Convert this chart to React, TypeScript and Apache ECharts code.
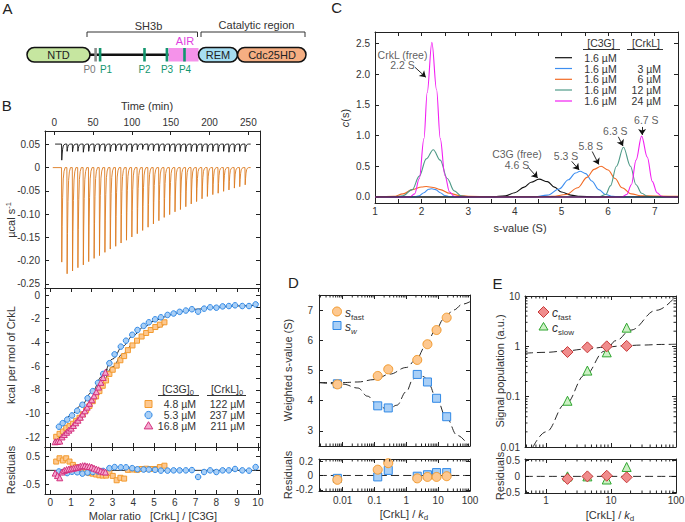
import React, { useEffect, useRef } from 'react';
import * as echarts from 'echarts';

const FONT = '"Liberation Sans", Arial, Helvetica, sans-serif';
const INK = '#222';
const TXT = '#333';

// ---------- Panel B (top): ITC thermogram ----------
const INJ_TIMES = [9.3, 16.2, 23.2, 30.1, 37.1, 44.0, 51.0, 57.9, 64.9, 71.8, 78.8, 85.7, 92.7, 99.6, 106.6, 113.5, 120.5, 127.4, 134.4, 141.3, 148.3, 155.2, 162.2, 169.1, 176.1, 183.0, 190.0, 196.9, 203.9, 210.8, 217.8, 224.7, 231.7, 238.6, 245.6];
const SAMPLE_TIPS = [-0.203, -0.228, -0.222, -0.215, -0.209, -0.202, -0.195, -0.189, -0.182, -0.175, -0.169, -0.162, -0.156, -0.149, -0.142, -0.135, -0.128, -0.121, -0.114, -0.107, -0.101, -0.095, -0.090, -0.084, -0.078, -0.073, -0.067, -0.062, -0.058, -0.055, -0.051, -0.048, -0.044, -0.041, -0.037];
const CONTROL_TIPS = [0.016, 0.035, 0.034, 0.035, 0.033, 0.035, 0.034, 0.036, 0.035, 0.034, 0.036, 0.037, 0.035, 0.034, 0.038, 0.039, 0.037, 0.036, 0.035, 0.036, 0.035, 0.034, 0.035, 0.034, 0.035, 0.034, 0.035, 0.034, 0.035, 0.034, 0.035, 0.033, 0.034, 0.035, 0.034];
const SAMPLE_BASE = 0;
const CONTROL_BASE = 0.0505;
const PEAK_PROFILE: [number, number][] = [[0, 0], [0.3, 1], [0.8, 0.62], [1.4, 0.32], [2.2, 0.12], [3.2, 0.04], [4.6, 0]];
const TIME_TICKS = [0, 50, 100, 150, 200, 250];
const POWER_TICKS = [0.05, 0, -0.05, -0.1, -0.15, -0.2, -0.25];

// ---------- Panel B (middle): isotherms ----------
const BLUE_X = [0.42, 0.6, 0.82, 1.05, 1.3, 1.55, 1.8, 2.05, 2.3, 2.55, 2.85, 3.1, 3.4, 3.65, 3.95, 4.2, 4.5, 4.75, 5.05, 5.33, 5.65, 5.94, 6.23, 6.53, 6.82, 7.12, 7.41, 7.7, 8.0, 8.3, 8.6, 8.9, 9.25, 9.57, 9.89];
const BLUE_Y = [-11.1, -10.8, -10.5, -10.15, -9.75, -9.25, -8.7, -8.1, -7.4, -6.65, -5.75, -5.0, -4.35, -3.85, -3.35, -2.95, -2.6, -2.3, -2.05, -1.88, -1.68, -1.56, -1.42, -1.31, -1.2, -1.4, -1.15, -1.04, -1.07, -0.96, -0.93, -0.87, -0.93, -0.93, -0.79];
const BLUE_RES = [-0.04, -0.06, -0.1, -0.05, -0.07, -0.12, -0.08, -0.06, -0.04, -0.02, 0.08, 0.12, 0.11, 0.11, 0.08, 0.04, 0.03, 0.03, 0.02, -0.01, -0.01, 0, 0, 0, 0.01, -0.24, -0.06, 0, -0.06, 0, 0, 0.05, 0, -0.01, 0.12];
const ORANGE_X = [0.29, 0.45, 0.61, 0.77, 0.93, 1.09, 1.25, 1.41, 1.57, 1.73, 1.89, 2.05, 2.21, 2.37, 2.53, 2.69, 2.85, 3.01, 3.2, 3.38, 3.56, 3.74, 3.96, 4.18, 4.4, 4.62, 4.84, 5.06, 5.28, 5.5];
const ORANGE_Y = [-11.95, -11.7, -11.5, -11.2, -11.05, -10.85, -10.6, -10.35, -10.05, -9.7, -9.35, -8.95, -8.55, -8.1, -7.65, -7.2, -6.65, -6.3, -5.95, -5.5, -5.15, -4.65, -4.25, -3.85, -3.5, -3.2, -2.95, -2.7, -2.5, -2.3];
const ORANGE_RES = [0.32, 0.44, 0.36, 0.44, 0.32, 0.2, 0.12, 0.02, -0.04, -0.07, -0.1, -0.12, -0.15, -0.18, -0.19, -0.19, -0.1, -0.2, -0.36, -0.27, -0.3, 0.02, 0.03, 0.02, 0.05, 0.06, 0.05, 0.05, 0.12, 0.17];
const MAG_X = [0.24, 0.35, 0.46, 0.57, 0.68, 0.79, 0.9, 1.01, 1.12, 1.23, 1.34, 1.45, 1.56, 1.67, 1.78, 1.89, 2.0, 2.11, 2.22, 2.33, 2.44, 2.55, 2.66];
const MAG_Y = [-12.37, -12.34, -12.31, -11.96, -11.76, -11.57, -11.39, -11.22, -11.0, -10.77, -10.55, -10.3, -10.03, -9.76, -9.45, -9.13, -8.83, -8.5, -8.15, -7.76, -7.36, -6.95, -6.51];
const MAG_RES = [-0.1, -0.19, -0.27, -0.06, 0.0, 0.03, 0.05, 0.06, 0.08, 0.1, 0.12, 0.15, 0.17, 0.17, 0.15, 0.14, 0.12, 0.08, 0.05, 0.02, -0.02, -0.05, -0.06];
const BLUE_FIT: [number, number][] = [[0.3, -11.2], [0.6, -10.78], [1, -10.1], [1.5, -9.3], [2, -8.2], [2.5, -6.85], [3, -5.4], [3.5, -4.3], [4, -3.4], [4.5, -2.7], [5, -2.2], [5.5, -1.85], [6, -1.55], [6.5, -1.35], [7, -1.2], [8, -1.03], [9, -0.92], [10, -0.85]];
const ORANGE_FIT: [number, number][] = [[0.2, -12.3], [0.6, -11.9], [1, -11.3], [1.5, -10.25], [2, -8.95], [2.5, -7.4], [3, -6.05], [3.5, -4.95], [4, -4.1], [4.5, -3.4], [5, -2.85], [5.5, -2.45]];
const MAG_FIT: [number, number][] = [[0.15, -12.35], [0.5, -12.0], [1, -11.3], [1.5, -10.35], [2, -8.95], [2.3, -7.9], [2.5, -7.1], [2.75, -6.25]];
const RATIO_TICKS = [0, 1, 2, 3, 4, 5, 6, 7, 8, 9, 10];
const HEAT_TICKS = [0, -1, -2, -3, -4, -5, -6, -7, -8, -9, -10, -11, -12];
const HEAT_LABELS = [0, -2, -4, -6, -8, -10, -12];
const RES_B_TICKS = [0.5, 0, -0.5];
const RES_B_LABELS = [0.5, -0.5];
const LEGEND_B = [
  { c3g: '4.8 µM', crkl: '122 µM' },
  { c3g: '5.3 µM', crkl: '237 µM' },
  { c3g: '16.8 µM', crkl: '211 µM' },
];

// ---------- Panel C: c(s) distributions ----------
const CS_BLACK: [number, number][] = [[1, 0], [3.5, 0], [3.8, 0.02], [4.0, 0.07], [4.2, 0.16], [4.35, 0.24], [4.52, 0.29], [4.7, 0.25], [4.85, 0.16], [5.0, 0.08], [5.2, 0.03], [5.4, 0.01], [5.7, 0], [7.5, 0]];
const CS_BLUE: [number, number][] = [[1, 0], [1.85, 0], [1.95, 0.02], [2.05, 0.07], [2.15, 0.125], [2.22, 0.135], [2.3, 0.12], [2.4, 0.07], [2.5, 0.025], [2.6, 0.005], [2.7, 0], [4.4, 0], [4.7, 0.03], [4.95, 0.13], [5.15, 0.28], [5.3, 0.39], [5.4, 0.42], [5.52, 0.38], [5.65, 0.26], [5.8, 0.12], [5.95, 0.04], [6.1, 0.01], [6.3, 0], [7.5, 0]];
const CS_ORANGE: [number, number][] = [[1, 0], [1.4, 0.01], [1.6, 0.05], [1.8, 0.12], [2.0, 0.163], [2.1, 0.17], [2.25, 0.155], [2.4, 0.12], [2.6, 0.06], [2.8, 0.025], [3.0, 0.01], [3.5, 0.003], [4.5, 0.004], [4.8, 0.01], [5.1, 0.04], [5.35, 0.15], [5.55, 0.32], [5.7, 0.45], [5.85, 0.5], [6.0, 0.44], [6.15, 0.3], [6.3, 0.15], [6.5, 0.05], [6.7, 0.02], [7.0, 0.015], [7.5, 0.01]];
const CS_TEAL: [number, number][] = [[1, 0], [1.4, 0.003], [1.6, 0.02], [1.8, 0.12], [1.95, 0.34], [2.1, 0.62], [2.25, 0.77], [2.4, 0.6], [2.55, 0.3], [2.7, 0.1], [2.85, 0.02], [3.0, 0], [5.8, 0], [5.95, 0.04], [6.05, 0.18], [6.18, 0.5], [6.33, 0.81], [6.48, 0.5], [6.6, 0.2], [6.72, 0.06], [6.85, 0.01], [7.0, 0], [7.5, 0]];
const CS_MAGENTA: [number, number][] = [[1, 0], [1.75, 0], [1.85, 0.05], [1.95, 0.3], [2.05, 0.95], [2.12, 1.7], [2.22, 2.52], [2.32, 1.75], [2.4, 0.95], [2.5, 0.35], [2.6, 0.08], [2.7, 0.01], [2.8, 0], [6.3, 0], [6.4, 0.04], [6.5, 0.2], [6.6, 0.6], [6.72, 0.99], [6.84, 0.65], [6.95, 0.25], [7.05, 0.07], [7.15, 0.01], [7.3, 0], [7.5, 0]];
const S_TICKS = [1, 1.5, 2, 2.5, 3, 3.5, 4, 4.5, 5, 5.5, 6, 6.5, 7, 7.5];
const S_LABELS = [1, 2, 3, 4, 5, 6, 7];
const CS_TICKS = [0, 0.5, 1, 1.5, 2, 2.5];
const PEAK_LABELS: [number, number, string][] = [
  [1.59, 2.23, 'CrkL (free)\n2.2 S'],
  [4.045, 0.61, 'C3G (free)\n4.6 S'],
  [5.1, 0.672, '5.3 S'],
  [5.63, 0.835, '5.8 S'],
  [6.156, 1.082, '6.3 S'],
  [6.82, 1.247, '6.7 S'],
];
const PEAK_ARROWS: [number, number, number, number][] = [
  [1.86, 2.11, 2.09, 1.95],
  [4.29, 0.48, 4.49, 0.31],
  [5.22, 0.58, 5.38, 0.44],
  [5.66, 0.74, 5.8, 0.53],
  [6.22, 0.98, 6.32, 0.83],
  [6.73, 1.14, 6.73, 1.01],
];
const LEGEND_C = [
  { color: '#111111', c3g: '1.6 µM', crkl: '' },
  { color: '#3d8ef0', c3g: '1.6 µM', crkl: '3 µM' },
  { color: '#f26a24', c3g: '1.6 µM', crkl: '6 µM' },
  { color: '#4f9a88', c3g: '1.6 µM', crkl: '12 µM' },
  { color: '#f21ff2', c3g: '1.6 µM', crkl: '24 µM' },
];

// ---------- Panel D ----------
const D_X = [0.0068, 0.126, 0.27, 2.2, 4.6, 8.9, 18.5];
const SFAST_Y = [4.54, 4.82, 5.04, 5.35, 5.87, 6.34, 6.75];
const SW_Y = [4.56, 3.83, 3.76, 4.87, 4.62, 4.08, 3.47];
const SFAST_RES = [-0.06, 0.08, 0.17, -0.04, -0.02, -0.02, -0.01];
const SW_RES = [-0.04, -0.02, 0.07, -0.01, 0.01, 0.04, 0.04];
const SFAST_FIT: [number, number][] = [[0.0018, 4.6], [0.01, 4.6], [0.03, 4.62], [0.1, 4.7], [0.3, 4.88], [1, 5.1], [2, 5.35], [4, 5.8], [8, 6.3], [15, 6.7], [30, 7.0], [60, 7.2], [100, 7.28]];
const SW_FIT: [number, number][] = [[0.0018, 4.6], [0.01, 4.55], [0.03, 4.42], [0.06, 4.15], [0.126, 3.85], [0.27, 3.7], [0.5, 3.85], [1, 4.3], [1.6, 4.7], [2.2, 4.87], [3.5, 4.8], [5, 4.55], [9, 4.05], [18, 3.44], [40, 2.85], [90, 2.5]];
const D_Y_TICKS = [3, 4, 5, 6, 7];
const D_RES_TICKS = [0.2, 0, -0.2];

// ---------- Panel E ----------
const E_X = [2.14, 4.33, 8.6, 17.4];
const CFAST_Y = [0.77, 0.955, 1.0, 1.02];
const CSLOW_Y = [0.083, 0.33, 0.76, 2.35];
const CFAST_RES = [-0.08, 0.0, 0.02, -0.03];
const CSLOW_RES = [0.0, 0.0, -0.1, 0.3];
const CFAST_FIT: [number, number][] = [[0.475, 0.73], [1, 0.76], [2, 0.81], [4, 0.88], [8, 0.96], [15, 1.02], [30, 1.06], [60, 1.09], [100, 1.1]];
const CSLOW_FIT: [number, number][] = [[0.63, 0.01], [1, 0.02], [2, 0.072], [4, 0.27], [8, 0.8], [12, 1.3], [20, 2.1], [50, 5.2], [100, 10]];
const E_RES_TICKS = [0.5, 0, -0.5];

// ---------- helpers ----------
function thermogram(base: number, tips: number[]): [number, number][] {
  const pts: [number, number][] = [[base === SAMPLE_BASE ? -2 : 1, base]];
  INJ_TIMES.forEach((t, i) => {
    const d = tips[i] - base;
    PEAK_PROFILE.forEach(([dt, f]) => pts.push([t + dt, base + d * f]));
  });
  pts.push([253, base]);
  return pts;
}
const zip = (xs: number[], ys: number[]) => xs.map((x, i) => [x, ys[i]]);
const isDecade = (v: number) => Math.abs(Math.log10(v) - Math.round(Math.log10(v))) < 1e-6;
const fmtDecade = (v: number) => {
  const e = Math.round(Math.log10(v));
  return e >= 0 ? String(Math.pow(10, e)) : Math.pow(10, e).toFixed(-e);
};
const logMinor = (lo: number, hi: number) => {
  const out: number[] = [];
  for (let e = -4; e <= 3; e++) for (let k = 2; k <= 9; k++) {
    const v = k * Math.pow(10, e);
    if (v > lo && v < hi) out.push(v);
  }
  return out;
};

const AXLINE = { show: true, onZero: false, lineStyle: { color: INK, width: 1 } };
const tickCfg = (vals: number[] | null, len = 4) => {
  const t: any = { show: true, inside: true, length: len, lineStyle: { color: INK, width: 1 } };
  if (vals) t.customValues = vals;
  return t;
};
const labelCfg = (vals: number[], fmt: (v: number) => string, margin = 5) => ({
  show: true, customValues: vals, formatter: fmt, fontSize: 10, color: TXT, fontFamily: FONT, margin,
});
function valAxis(gridIndex: number, position: string, min: number, max: number, ticks: number[], labels?: number[], fmt?: (v: number) => string, margin?: number) {
  return {
    type: 'value', gridIndex, position, min, max, axisLine: AXLINE, axisTick: tickCfg(ticks),
    axisLabel: labels ? labelCfg(labels, fmt || ((v: number) => String(v)), margin) : { show: false },
    splitLine: { show: false }, minorTick: { show: false },
  };
}
function logAxis(gridIndex: number, position: string, min: number, max: number, showLabels: boolean, margin = 5) {
  return {
    type: 'log', logBase: 10, gridIndex, position, min, max, axisLine: AXLINE, axisTick: tickCfg(null),
    axisLabel: showLabels ? { show: true, fontSize: 10, color: TXT, fontFamily: FONT, margin, formatter: (v: number) => (isDecade(v) ? fmtDecade(v) : ''), showMinLabel: true, showMaxLabel: true } : { show: false },
    splitLine: { show: false }, minorTick: { show: false },
  };
}
function minorX(xi: number, yi: number, values: number[], yAnchor: number) {
  return {
    type: 'custom', xAxisIndex: xi, yAxisIndex: yi, silent: true, z: 5,
    data: values.map((v) => [v, yAnchor]),
    renderItem: (params: any, api: any) => {
      const cs = params.coordSys;
      const x = api.coord([api.value(0), yAnchor])[0];
      const s = { stroke: INK, lineWidth: 1 };
      return { type: 'group', children: [
        { type: 'line', shape: { x1: x, y1: cs.y + cs.height, x2: x, y2: cs.y + cs.height - 2.5 }, style: s },
        { type: 'line', shape: { x1: x, y1: cs.y, x2: x, y2: cs.y + 2.5 }, style: s },
      ] };
    },
  };
}
function minorY(xi: number, yi: number, values: number[], xAnchor: number) {
  return {
    type: 'custom', xAxisIndex: xi, yAxisIndex: yi, silent: true, z: 5,
    data: values.map((v) => [xAnchor, v]),
    renderItem: (params: any, api: any) => {
      const cs = params.coordSys;
      const y = api.coord([xAnchor, api.value(1)])[1];
      const s = { stroke: INK, lineWidth: 1 };
      return { type: 'group', children: [
        { type: 'line', shape: { x1: cs.x, y1: y, x2: cs.x + 2.5, y2: y }, style: s },
        { type: 'line', shape: { x1: cs.x + cs.width, y1: y, x2: cs.x + cs.width - 2.5, y2: y }, style: s },
      ] };
    },
  };
}

const C_ORANGE = { fill: '#fdc890', stroke: '#f39a2d' };
const C_BLUE = { fill: '#a9cff6', stroke: '#3189e6' };
const C_MAG = { fill: '#f4a8cf', stroke: '#d3307e' };
const C_RED = { fill: '#f08c8c', stroke: '#c83a3a' };
const C_GREEN = { fill: '#ccf0c4', stroke: '#2ea62e' };

function scatter(xi: number, yi: number, data: any[], symbol: string, size: number, c: { fill: string; stroke: string }, z = 4) {
  return { type: 'scatter', xAxisIndex: xi, yAxisIndex: yi, data, symbol, symbolSize: size, z, itemStyle: { color: c.fill, borderColor: c.stroke, borderWidth: 1, opacity: 1 } };
}
function fitLine(xi: number, yi: number, data: any[], dashed: boolean, color = '#111', width = 0.9) {
  return { type: 'line', xAxisIndex: xi, yAxisIndex: yi, data, showSymbol: false, smooth: 0.4, smoothMonotone: 'x', z: 3, lineStyle: { color, width, type: dashed ? [8, 4] : 'solid' } };
}

function buildOption() {
  const grids = [
    { left: 45, top: 131, width: 215, height: 157 },
    { left: 45, top: 288, width: 215, height: 159 },
    { left: 45, top: 447, width: 215, height: 47 },
    { left: 375, top: 32, width: 303, height: 171 },
    { left: 319, top: 295, width: 151, height: 151 },
    { left: 319, top: 459, width: 151, height: 32 },
    { left: 525, top: 296, width: 151, height: 151 },
    { left: 525, top: 459, width: 151, height: 34 },
  ].map((g) => ({ ...g, containLabel: false, outerBoundsMode: 'none' }));

  const xAxes: any[] = [];
  const yAxes: any[] = [];
  const X = (a: any) => (xAxes.push(a), xAxes.length - 1);
  const Y = (a: any) => (yAxes.push(a), yAxes.length - 1);

  // B1
  const xB1 = X(valAxis(0, 'top', -12, 265, TIME_TICKS, TIME_TICKS, (v) => String(v), 4));
  X({ ...valAxis(0, 'bottom', -12, 265, []), axisTick: { show: false } });
  const yB1 = Y(valAxis(0, 'left', -0.2586, 0.0786, POWER_TICKS, POWER_TICKS, (v) => (v === 0 ? '0' : v.toFixed(2))));
  Y(valAxis(0, 'right', -0.2586, 0.0786, POWER_TICKS));
  // B2
  const xB2 = X(valAxis(1, 'bottom', -0.25, 10.1, RATIO_TICKS));
  X(valAxis(1, 'top', -0.25, 10.1, RATIO_TICKS));
  const yB2 = Y(valAxis(1, 'left', -12.81, 0.59, HEAT_TICKS, HEAT_LABELS));
  Y(valAxis(1, 'right', -12.81, 0.59, HEAT_TICKS));
  // B3
  const xB3 = X(valAxis(2, 'bottom', -0.25, 10.1, RATIO_TICKS, RATIO_TICKS, (v) => String(v), 3));
  X(valAxis(2, 'top', -0.25, 10.1, RATIO_TICKS));
  const yB3 = Y(valAxis(2, 'left', -0.86, 0.85, RES_B_TICKS, RES_B_LABELS));
  Y(valAxis(2, 'right', -0.86, 0.85, RES_B_TICKS));
  // C
  const xC = X(valAxis(3, 'bottom', 1, 7.5, S_TICKS, S_LABELS, (v) => String(v), 3.5));
  X(valAxis(3, 'top', 1, 7.5, S_TICKS));
  const yC = Y(valAxis(3, 'left', -0.098, 2.686, CS_TICKS, CS_TICKS, (v) => v.toFixed(1)));
  Y(valAxis(3, 'right', -0.098, 2.686, CS_TICKS));
  // D1
  const xD1 = X(logAxis(4, 'bottom', 0.0018, 100, false));
  X(logAxis(4, 'top', 0.0018, 100, false));
  const yD1 = Y(valAxis(4, 'left', 2.5, 7.5, D_Y_TICKS, D_Y_TICKS, (v) => String(v), 6));
  Y(valAxis(4, 'right', 2.5, 7.5, D_Y_TICKS));
  // D2
  const xD2 = X(logAxis(5, 'bottom', 0.0018, 100, true, 4.5));
  X(logAxis(5, 'top', 0.0018, 100, false));
  const yD2 = Y(valAxis(5, 'left', -0.215, 0.228, D_RES_TICKS, D_RES_TICKS, (v) => String(v), 6));
  Y(valAxis(5, 'right', -0.215, 0.228, D_RES_TICKS));
  // E1
  const xE1 = X(logAxis(6, 'bottom', 0.475, 100, false));
  X(logAxis(6, 'top', 0.475, 100, false));
  const yE1 = Y(logAxis(6, 'left', 0.01, 10, true, 5));
  Y(logAxis(6, 'right', 0.01, 10, false));
  // E2
  const xE2 = X(logAxis(7, 'bottom', 0.475, 100, true, 2.5));
  X(logAxis(7, 'top', 0.475, 100, false));
  const yE2 = Y(valAxis(7, 'left', -0.53, 0.554, E_RES_TICKS, E_RES_TICKS, (v) => String(v), 5));
  Y(valAxis(7, 'right', -0.53, 0.554, E_RES_TICKS));

  const series: any[] = [];
  // B1 thermograms
  series.push({ type: 'line', xAxisIndex: xB1, yAxisIndex: yB1, data: thermogram(SAMPLE_BASE, SAMPLE_TIPS), showSymbol: false, lineStyle: { color: '#dd7b1f', width: 0.9 }, z: 2 });
  series.push({ type: 'line', xAxisIndex: xB1, yAxisIndex: yB1, data: thermogram(CONTROL_BASE, CONTROL_TIPS), showSymbol: false, lineStyle: { color: '#111', width: 0.9 }, z: 2 });
  // B2
  series.push(fitLine(xB2, yB2, BLUE_FIT, false));
  series.push(fitLine(xB2, yB2, ORANGE_FIT, false));
  series.push(fitLine(xB2, yB2, MAG_FIT, false));
  series.push(scatter(xB2, yB2, zip(ORANGE_X, ORANGE_Y), 'rect', 5, C_ORANGE));
  series.push(scatter(xB2, yB2, zip(BLUE_X, BLUE_Y), 'circle', 5.5, C_BLUE));
  series.push(scatter(xB2, yB2, zip(MAG_X, MAG_Y), 'triangle', 6, C_MAG));
  // B3
  series.push({ type: 'line', xAxisIndex: xB3, yAxisIndex: yB3, data: [[-0.25, 0], [10.1, 0]], showSymbol: false, lineStyle: { color: '#111', width: 0.9 }, z: 2 });
  series.push(scatter(xB3, yB3, zip(ORANGE_X, ORANGE_RES), 'rect', 5, C_ORANGE));
  series.push(scatter(xB3, yB3, zip(BLUE_X, BLUE_RES), 'circle', 5.5, C_BLUE));
  series.push(scatter(xB3, yB3, zip(MAG_X, MAG_RES), 'triangle', 6, C_MAG));
  // C
  const csLine = (data: any[], color: string) => ({ type: 'line', xAxisIndex: xC, yAxisIndex: yC, data, showSymbol: false, smooth: 0.35, smoothMonotone: 'x', lineStyle: { color, width: 1.1 }, z: 3 });
  series.push(csLine(CS_BLACK, LEGEND_C[0].color));
  series.push(csLine(CS_BLUE, LEGEND_C[1].color));
  series.push(csLine(CS_ORANGE, LEGEND_C[2].color));
  series.push(csLine(CS_TEAL, LEGEND_C[3].color));
  series.push(csLine(CS_MAGENTA, LEGEND_C[4].color));
  series.push({
    type: 'line', xAxisIndex: xC, yAxisIndex: yC, data: [[1, 0], [7.5, 0]], showSymbol: false, lineStyle: { color: '#111', width: 1 }, z: 4,
    markLine: {
      silent: true, symbol: ['none', 'arrow'], symbolSize: 6, label: { show: false },
      lineStyle: { color: '#111', width: 0.9, type: 'solid' },
      data: PEAK_ARROWS.map(([x1, y1, x2, y2]) => [{ coord: [x1, y1] }, { coord: [x2, y2] }]),
    },
  });
  series.push({
    type: 'scatter', xAxisIndex: xC, yAxisIndex: yC, data: PEAK_LABELS, symbolSize: 1, z: 6,
    itemStyle: { color: 'rgba(0,0,0,0)' },
    labelLayout: { hideOverlap: false },
    label: { show: true, position: 'inside', formatter: (p: any) => p.data[2], fontSize: 10.5, lineHeight: 10.5, color: TXT, fontFamily: FONT, align: 'center', verticalAlign: 'middle' },
  });
  // D1
  series.push(fitLine(xD1, yD1, SFAST_FIT, true));
  series.push(fitLine(xD1, yD1, SW_FIT, true));
  series.push(scatter(xD1, yD1, zip(D_X, SW_Y), 'rect', 8, C_BLUE));
  series.push(scatter(xD1, yD1, zip(D_X, SFAST_Y), 'circle', 9, C_ORANGE));
  series.push(minorX(xD1, yD1, logMinor(0.0018, 100), 5));
  // D2
  series.push(fitLine(xD2, yD2, [[0.0018, 0], [100, 0]], true));
  series.push(scatter(xD2, yD2, zip(D_X, SW_RES), 'rect', 8, C_BLUE));
  series.push(scatter(xD2, yD2, zip(D_X, SFAST_RES), 'circle', 9, C_ORANGE));
  series.push(minorX(xD2, yD2, logMinor(0.0018, 100), 0));
  // E1
  series.push(fitLine(xE1, yE1, CFAST_FIT, true));
  series.push(fitLine(xE1, yE1, CSLOW_FIT, true));
  series.push(scatter(xE1, yE1, zip(E_X, CSLOW_Y), 'triangle', 9, C_GREEN));
  series.push(scatter(xE1, yE1, zip(E_X, CFAST_Y), 'diamond', 11, C_RED));
  series.push(minorX(xE1, yE1, logMinor(0.475, 100), 1));
  series.push(minorY(xE1, yE1, logMinor(0.01, 10), 1));
  // E2
  series.push(fitLine(xE2, yE2, [[0.475, 0], [100, 0]], true));
  series.push(scatter(xE2, yE2, zip(E_X, CSLOW_RES), 'triangle', 9, C_GREEN));
  series.push(scatter(xE2, yE2, zip(E_X, CFAST_RES), 'diamond', 11, C_RED));
  series.push(minorX(xE2, yE2, logMinor(0.475, 100), 0));

  // ---------- graphic ----------
  const g: any[] = [];
  const txt = (x: number, y: number, text: string, o: any = {}) => g.push({
    type: 'text', x, y, rotation: o.rotation || 0, z: 20,
    style: { text, fontSize: o.size || 11, fontFamily: FONT, fill: o.color || TXT, align: o.align || 'center', verticalAlign: 'middle', fontStyle: o.italic ? 'italic' : 'normal', rich: o.rich },
  });
  // panel letters
  [['A', 7.5, 8.5], ['B', 6.7, 105.5], ['C', 336.7, 7.5], ['D', 293.5, 282], ['E', 497.5, 283]].forEach(([t, x, y]) => txt(x as number, y as number, t as string, { size: 15, color: '#222' }));

  // Panel A
  const dY = 47.5, dH = 14.5;
  g.push({ type: 'line', shape: { x1: 88, y1: dY + dH / 2, x2: 199, y2: dY + dH / 2 }, style: { stroke: '#111', lineWidth: 2.5 }, z: 10 });
  g.push({ type: 'rect', shape: { x: 168.5, y: dY + 0.5, width: 30, height: dH - 1 }, style: { fill: '#f592ea' }, z: 11 });
  g.push({ type: 'rect', shape: { x: 27, y: dY, width: 63, height: dH, r: dH / 2 }, style: { fill: '#c6e6a0', stroke: '#111', lineWidth: 1.5 }, z: 12 });
  g.push({ type: 'rect', shape: { x: 198.5, y: dY, width: 39, height: dH, r: dH / 2 }, style: { fill: '#a6def2', stroke: '#111', lineWidth: 1.5 }, z: 12 });
  g.push({ type: 'rect', shape: { x: 237.5, y: dY, width: 68.5, height: dH, r: dH / 2 }, style: { fill: '#f5ae82', stroke: '#111', lineWidth: 1.5 }, z: 12 });
  [[94.3, '#8c8c8c'], [98.8, '#13966e'], [143.2, '#13966e'], [165.6, '#13966e'], [183.2, '#13966e']].forEach(([x, c]) =>
    g.push({ type: 'rect', shape: { x: x as number, y: dY + 0.5, width: 2.6, height: dH - 1 }, style: { fill: c as string }, z: 13 }));
  txt(58.5, 55, 'NTD', { size: 11, color: '#222' });
  txt(218, 55, 'REM', { size: 11, color: '#222' });
  txt(272, 55, 'Cdc25HD', { size: 11, color: '#222' });
  g.push({ type: 'polyline', shape: { points: [[87, 37], [87, 32], [197.5, 32], [197.5, 37]] }, style: { stroke: '#333', lineWidth: 1, fill: 'none' }, z: 10 });
  g.push({ type: 'polyline', shape: { points: [[201, 37], [201, 32], [305, 32], [305, 37]] }, style: { stroke: '#333', lineWidth: 1, fill: 'none' }, z: 10 });
  txt(148.5, 25.5, 'SH3b', { size: 11 });
  txt(256.5, 25, 'Catalytic region', { size: 11 });
  txt(185, 40.5, 'AIR', { size: 11, color: '#e03ee0' });
  txt(89.5, 69.5, 'P0', { size: 10, color: '#777' });
  txt(106, 69.5, 'P1', { size: 10, color: '#13966e' });
  txt(144.5, 69.5, 'P2', { size: 10, color: '#13966e' });
  txt(167, 69.5, 'P3', { size: 10, color: '#13966e' });
  txt(185, 69.5, 'P4', { size: 10, color: '#13966e' });

  // Panel B titles
  txt(147, 106, 'Time (min)', { size: 11 });
  txt(11, 220, '{a|µcal s}{b|-1}', { rotation: Math.PI / 2, rich: { a: { fontSize: 11, fontFamily: FONT, fill: TXT, lineHeight: 14 }, b: { fontSize: 7.5, fontFamily: FONT, fill: TXT, verticalAlign: 'top', lineHeight: 9 } } });
  txt(11, 355, 'kcal per mol of CrkL', { size: 11, rotation: Math.PI / 2 });
  txt(11, 470, 'Residuals', { size: 11, rotation: Math.PI / 2 });
  txt(153, 516, 'Molar ratio   [CrkL] / [C3G]', { size: 11 });
  // B legend
  const subRich = { a: { fontSize: 10.5, fontFamily: FONT, fill: TXT, lineHeight: 14 }, b: { fontSize: 7.5, fontFamily: FONT, fill: TXT, verticalAlign: 'bottom', lineHeight: 8 } };
  txt(178, 389, '{a|[C3G]}{b|0}', { rich: subRich });
  txt(227, 389, '{a|[CrkL]}{b|0}', { rich: subRich });
  g.push({ type: 'line', shape: { x1: 158, y1: 395.5, x2: 199, y2: 395.5 }, style: { stroke: '#333', lineWidth: 1 }, z: 20 });
  g.push({ type: 'line', shape: { x1: 207, y1: 395.5, x2: 246, y2: 395.5 }, style: { stroke: '#333', lineWidth: 1 }, z: 20 });
  const rowY = [404, 415, 425.7];
  g.push({ type: 'rect', shape: { x: 145, y: rowY[0] - 3.5, width: 7, height: 7 }, style: { fill: C_ORANGE.fill, stroke: C_ORANGE.stroke, lineWidth: 1 }, z: 20 });
  g.push({ type: 'circle', shape: { cx: 148.5, cy: rowY[1], r: 3.6 }, style: { fill: C_BLUE.fill, stroke: C_BLUE.stroke, lineWidth: 1 }, z: 20 });
  g.push({ type: 'polygon', shape: { points: [[148.5, rowY[2] - 4], [152.8, rowY[2] + 3.2], [144.2, rowY[2] + 3.2]] }, style: { fill: C_MAG.fill, stroke: C_MAG.stroke, lineWidth: 1 }, z: 20 });
  LEGEND_B.forEach((r, i) => {
    txt(196, rowY[i], r.c3g, { size: 10.5, align: 'right' });
    txt(245, rowY[i], r.crkl, { size: 10.5, align: 'right' });
  });

  // Panel C titles + legend
  txt(345, 118, '{i|c}{n|(s)}', { rotation: Math.PI / 2, rich: { i: { fontStyle: 'italic', fontSize: 11, fontFamily: FONT, fill: TXT }, n: { fontSize: 11, fontFamily: FONT, fill: TXT } } });
  txt(520, 227.5, 's-value (S)', { size: 11 });
  txt(601, 43, '[C3G]', { size: 10.5 });
  txt(646, 43, '[CrkL]', { size: 10.5 });
  g.push({ type: 'line', shape: { x1: 583, y1: 49.5, x2: 620, y2: 49.5 }, style: { stroke: '#333', lineWidth: 1 }, z: 20 });
  g.push({ type: 'line', shape: { x1: 627, y1: 49.5, x2: 663, y2: 49.5 }, style: { stroke: '#333', lineWidth: 1 }, z: 20 });
  const cRows = [57.7, 68.5, 79.3, 90, 101];
  LEGEND_C.forEach((r, i) => {
    g.push({ type: 'line', shape: { x1: 555, y1: cRows[i], x2: 572, y2: cRows[i] }, style: { stroke: r.color, lineWidth: 1.2 }, z: 20 });
    txt(600.5, cRows[i], r.c3g, { size: 10.5 });
    if (r.crkl) txt(661, cRows[i], r.crkl, { size: 10.5, align: 'right' });
  });

  // Panel D titles + legend
  const kRich = { n: { fontSize: 11, fontFamily: FONT, fill: TXT, lineHeight: 15 }, i: { fontSize: 11, fontFamily: FONT, fill: TXT, fontStyle: 'italic', lineHeight: 15 }, s: { fontSize: 8, fontFamily: FONT, fill: TXT, verticalAlign: 'bottom', lineHeight: 9 } };
  txt(288, 370, 'Weighted s-value (S)', { size: 11, rotation: Math.PI / 2 });
  txt(288, 475, 'Residuals', { size: 11, rotation: Math.PI / 2 });
  txt(404, 514, '{n|[CrkL] / }{i|k}{s|d}', { rich: kRich });
  g.push({ type: 'circle', shape: { cx: 337, cy: 311.5, r: 4.5 }, style: { fill: C_ORANGE.fill, stroke: C_ORANGE.stroke, lineWidth: 1 }, z: 20 });
  g.push({ type: 'rect', shape: { x: 333, y: 321.5, width: 8, height: 8 }, style: { fill: C_BLUE.fill, stroke: C_BLUE.stroke, lineWidth: 1 }, z: 20 });
  const legRich = { i: { fontSize: 12, fontFamily: FONT, fill: TXT, fontStyle: 'italic', lineHeight: 16 }, s: { fontSize: 8, fontFamily: FONT, fill: TXT, verticalAlign: 'bottom', lineHeight: 10 }, si: { fontSize: 8, fontFamily: FONT, fill: TXT, fontStyle: 'italic', verticalAlign: 'bottom', lineHeight: 10 } };
  txt(345, 313, '{i|s}{s|fast}', { align: 'left', rich: legRich });
  txt(345, 327, '{i|s}{si|w}', { align: 'left', rich: legRich });

  // Panel E titles + legend
  txt(500, 371, 'Signal population (a.u.)', { size: 11, rotation: Math.PI / 2 });
  txt(500, 476, 'Residuals', { size: 11, rotation: Math.PI / 2 });
  txt(610, 515, '{n|[CrkL] / }{i|k}{s|d}', { rich: kRich });
  g.push({ type: 'polygon', shape: { points: [[543.5, 306.5], [549, 312], [543.5, 317.5], [538, 312]] }, style: { fill: C_RED.fill, stroke: C_RED.stroke, lineWidth: 1 }, z: 20 });
  g.push({ type: 'polygon', shape: { points: [[543.5, 322.5], [548, 330], [539, 330]] }, style: { fill: C_GREEN.fill, stroke: C_GREEN.stroke, lineWidth: 1 }, z: 20 });
  txt(552, 313, '{i|c}{s|fast}', { align: 'left', rich: legRich });
  txt(552, 328, '{i|c}{s|slow}', { align: 'left', rich: legRich });

  return {
    animation: false,
    backgroundColor: '#ffffff',
    textStyle: { fontFamily: FONT },
    grid: grids,
    xAxis: xAxes,
    yAxis: yAxes,
    series,
    graphic: g,
  };
}

export default function App() {
  const ref = useRef<HTMLDivElement>(null);
  useEffect(() => {
    if (!ref.current) return;
    const chart = echarts.init(ref.current, undefined, { renderer: 'svg' });
    chart.setOption(buildOption() as any);
    return () => chart.dispose();
  }, []);
  return <div ref={ref} style={{ position: 'absolute', left: 0, top: 0, width: 685, height: 522, background: '#fff' }} />;
}
